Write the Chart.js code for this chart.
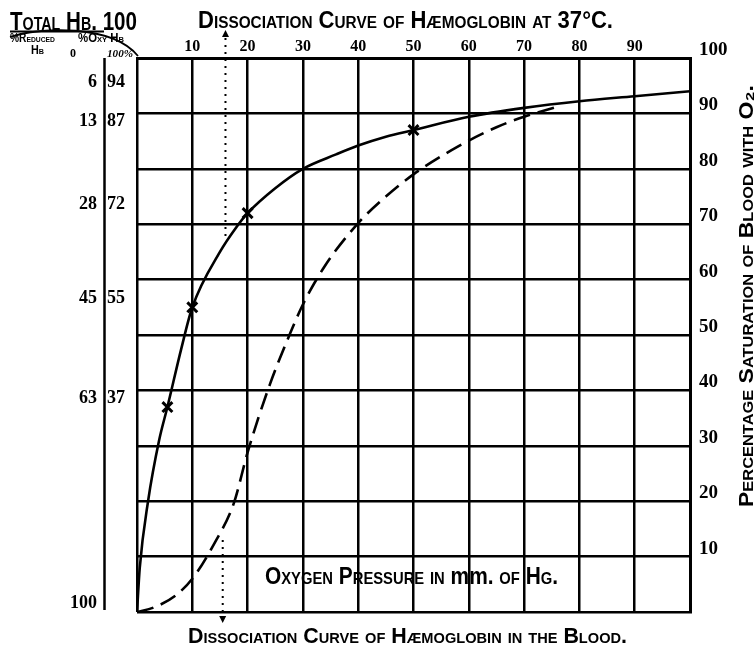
<!DOCTYPE html>
<html>
<head>
<meta charset="utf-8">
<title>Dissociation Curve of Hæmoglobin</title>
<script src="https://cdn.jsdelivr.net/npm/chart.js@4.4.0/dist/chart.umd.min.js"></script>
<style>
  html, body { margin: 0; padding: 0; background: #fff; }
  #chart { display: block; }
</style>
</head>
<body>
<canvas id="chart" width="754" height="649"></canvas>
<script>
// Oxygen pressure (mm Hg) vs percentage saturation, Hb solution at 37°C
const solutionPressure = [0, 0.5, 2, 4, 5.5, 8, 10, 15, 18, 20, 25, 30, 36, 40, 45, 50, 60, 70, 80, 90, 100];
const solutionSaturation = [0, 8, 20, 31, 37, 47.5, 55, 65, 69.5, 72, 76.5, 80, 82.6, 84.2, 85.8, 87, 89.4, 91, 92.2, 93.1, 94];

// Same pigment in whole blood (dashed curve)
const bloodPressure = [0, 3, 7, 10, 14, 17.5, 20, 24, 27.7, 30, 34, 40, 45, 50, 58, 65, 70, 76];
const bloodSaturation = [0, 0.8, 3, 6, 12.4, 19.6, 28.8, 41, 50.3, 55.5, 62.5, 70.2, 75, 79, 84, 87.5, 89.4, 91.2];

// Observed points marked with crosses
const markedPressure = [5.5, 10, 20, 50];
const markedSaturation = [37, 55, 72, 87];

// Side table: % oxy-Hb levels and the matching % reduced Hb
const tableOxy = [100, 94, 87, 72, 55, 37, 0];
const tableOxyLabels = ['100%', '94', '87', '72', '55', '37', ''];
const tableReducedLabels = ['0', '6', '13', '28', '45', '63', '100'];

// Dotted pointers from the titles to their curves
const solutionPointer = { pressure: 16, saturation: 67 };
const bloodPointer = { pressure: 15.5, saturation: 13 };

const INK = '#000';
const HAND = '"Liberation Sans Narrow", "Liberation Sans", sans-serif';
const NUM = '"Liberation Serif", serif';

function toPoints(xs, ys) {
    return xs.map((v, i) => ({ x: v, y: ys[i] }));
}

// Draw text squeezed/stretched to a given width
function fitRuns(ctx, runs, x, y, width, font) {
    ctx.save();
    ctx.font = font;
    let total = 0;
    const widths = runs.map(([text, caps]) => {
        ctx.fontVariantCaps = caps ? 'small-caps' : 'normal';
        const w = ctx.measureText(text).width;
        total += w;
        return w;
    });
    ctx.translate(x, y);
    ctx.scale(width / total, 1);
    ctx.textAlign = 'left';
    let cx = 0;
    runs.forEach(([text, caps], i) => {
        ctx.fontVariantCaps = caps ? 'small-caps' : 'normal';
        ctx.fillText(text, cx, 0);
        cx += widths[i];
    });
    ctx.restore();
}

function fitText(ctx, text, x, y, width, font) {
    fitRuns(ctx, [[text, true]], x, y, width, font);
}

function arrowHead(ctx, x, tipY, dir) {
    ctx.beginPath();
    ctx.moveTo(x, tipY);
    ctx.lineTo(x - 3.5, tipY - dir * 7);
    ctx.lineTo(x + 3.5, tipY - dir * 7);
    ctx.closePath();
    ctx.fill();
}

const sheetNotes = {
    id: 'sheetNotes',
    afterDraw(chart) {
        const { ctx, scales: { x, y } } = chart;
        ctx.save();
        ctx.fillStyle = INK;
        ctx.strokeStyle = INK;
        ctx.textBaseline = 'alphabetic';

        // Heading block, top left
        fitText(ctx, 'Total Hb. 100', 10, 30, 127, 'bold 26px ' + HAND);
        ctx.lineWidth = 2;
        ctx.beginPath();
        ctx.moveTo(10, 31.5);
        ctx.lineTo(104, 31.5);
        ctx.stroke();
        ctx.lineWidth = 1.8;
        ctx.beginPath();
        ctx.moveTo(10, 37);
        ctx.bezierCurveTo(40, 27, 112, 24, 138, 56);
        ctx.stroke();
        fitText(ctx, '%Reduced', 10, 42, 45, 'bold 12px ' + HAND);
        fitText(ctx, 'Hb', 31, 54, 13, 'bold 12px ' + HAND);
        fitText(ctx, '%Oxy Hb', 78, 42, 46, 'bold 12px ' + HAND);

        // Side table of reduced / oxy Hb
        ctx.lineWidth = 2.5;
        ctx.beginPath();
        ctx.moveTo(104.5, y.getPixelForValue(100));
        ctx.lineTo(104.5, y.getPixelForValue(0) - 2);
        ctx.stroke();
        tableOxy.forEach((v, i) => {
            const py = y.getPixelForValue(v) - 4;
            if (i === 0) {
                ctx.font = 'bold 12px ' + NUM;
                ctx.textAlign = 'center';
                ctx.fillText(tableReducedLabels[i], 73, 57);
                fitRuns(ctx, [[tableOxyLabels[i], false]], 107, 57, 26, 'italic bold 11px ' + NUM);
                return;
            }
            ctx.font = 'bold 18px ' + NUM;
            ctx.textAlign = 'right';
            ctx.fillText(tableReducedLabels[i], 97, py);
            ctx.textAlign = 'left';
            ctx.fillText(tableOxyLabels[i], 107, py);
        });

        // Titles
        fitText(ctx, 'Dissociation Curve of Hæmoglobin at 37°C.', 198, 28, 415, 'bold 23px ' + HAND);
        fitText(ctx, 'Dissociation Curve of Hæmoglobin in the Blood.', 188, 643, 439, 'bold 22px ' + HAND);
        fitRuns(ctx, [['Oxygen Pressure in ', true], ['mm.', false], [' of Hg.', true]],
            265, 584, 293, 'bold 24px ' + HAND);

        // Right axis title, reading upward
        ctx.save();
        ctx.translate(753, 507);
        ctx.rotate(-Math.PI / 2);
        fitText(ctx, 'Percentage Saturation of Blood with O₂.', 0, 0, 422, 'bold 21px ' + HAND);
        ctx.restore();

        // Dotted pointers
        ctx.lineWidth = 2;
        ctx.setLineDash([2, 5]);
        const tx = x.getPixelForValue(solutionPointer.pressure);
        ctx.beginPath();
        ctx.moveTo(tx, 38);
        ctx.lineTo(tx, y.getPixelForValue(solutionPointer.saturation));
        ctx.stroke();
        const bx = x.getPixelForValue(bloodPointer.pressure);
        ctx.beginPath();
        ctx.moveTo(bx, y.getPixelForValue(bloodPointer.saturation));
        ctx.lineTo(bx, 616);
        ctx.stroke();
        ctx.setLineDash([]);
        arrowHead(ctx, tx, 30, -1);
        arrowHead(ctx, bx, 623, 1);

        ctx.restore();
    }
};

new Chart(document.getElementById('chart'), {
    type: 'scatter',
    data: {
        datasets: [
            {
                label: 'Hb solution',
                data: toPoints(solutionPressure, solutionSaturation),
                showLine: true,
                borderColor: INK,
                borderWidth: 2.6,
                pointRadius: 0,
                cubicInterpolationMode: 'monotone'
            },
            {
                label: 'Blood',
                data: toPoints(bloodPressure, bloodSaturation),
                showLine: true,
                borderColor: INK,
                borderWidth: 2.6,
                borderDash: [17, 8],
                pointRadius: 0,
                cubicInterpolationMode: 'monotone'
            },
            {
                label: 'Observed',
                data: toPoints(markedPressure, markedSaturation),
                showLine: false,
                pointStyle: 'crossRot',
                pointRadius: 7,
                borderColor: INK,
                borderWidth: 3
            }
        ]
    },
    options: {
        responsive: false,
        animation: false,
        devicePixelRatio: 1,
        layout: { padding: { left: 137, right: 0, top: 0, bottom: 37 } },
        plugins: {
            legend: { display: false },
            tooltip: { enabled: false }
        },
        scales: {
            x: {
                type: 'linear',
                position: 'top',
                min: 0,
                max: 100,
                afterFit: s => { s.height = 58; },
                ticks: {
                    stepSize: 10,
                    padding: 2,
                    color: INK,
                    font: { family: NUM, size: 16, weight: 'bold' },
                    maxRotation: 0,
                    callback: v => (v > 0 && v < 100 ? v : '')
                },
                grid: { color: INK, lineWidth: 2.5, drawTicks: false },
                border: { color: INK, width: 3 }
            },
            y: {
                type: 'linear',
                position: 'right',
                min: 0,
                max: 100,
                afterFit: s => { s.width = 64; },
                ticks: {
                    stepSize: 10,
                    padding: 9,
                    labelOffset: -8,
                    color: INK,
                    font: { family: NUM, size: 19, weight: 'bold' },
                    callback: v => (v > 0 ? v : '')
                },
                grid: { color: INK, lineWidth: 2.5, drawTicks: false },
                border: { color: INK, width: 3 }
            }
        }
    },
    plugins: [sheetNotes]
});
</script>
</body>
</html>
